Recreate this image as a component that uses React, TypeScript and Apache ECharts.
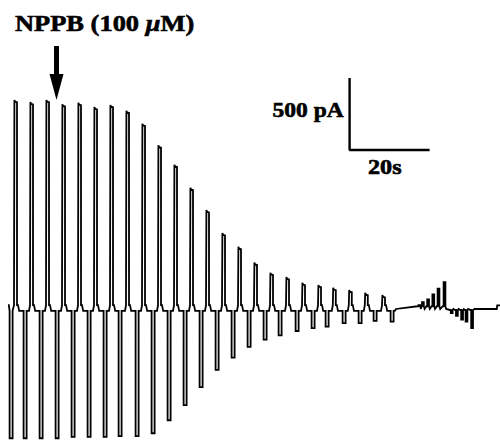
import React, { useEffect, useRef } from "react";
import * as echarts from "echarts";

// Time (s) at which each depolarising (positive) step begins, and its current (pA)
const posTimes = [3.6, 7.6, 11.6, 15.6, 19.6, 23.6, 27.6, 31.6, 35.6, 39.6, 43.6, 47.6, 51.6, 55.6, 59.6, 63.6, 67.6, 71.6, 75.6, 79.6, 83.3, 87.3, 91.3, 95.6];
const posPeaks = [1445, 1430, 1445, 1415, 1425, 1395, 1410, 1370, 1280, 1130, 995, 835, 680, 520, 425, 315, 245, 215, 175, 160, 140, 125, 105, 90];
// Time (s) at which each hyperpolarising (negative) step begins, and its current (pA)
const negTimes = [2.4, 5.9, 9.9, 13.9, 17.9, 21.9, 25.9, 29.65, 33.9, 37.9, 41.9, 45.9, 49.9, 53.9, 57.9, 61.9, 65.9, 69.65, 73.9, 77.9, 81.4, 85.65, 89.65, 93.4, 97.65];
const negPeaks = [-905, -905, -905, -905, -895, -895, -895, -890, -890, -870, -780, -675, -550, -430, -345, -270, -220, -190, -160, -140, -130, -105, -105, -90, -95];
// Late transient burst after the block (s, pA)
const burstTimes = [104.6, 105.5, 106.8, 108.1, 109.4, 110.9, 112.7, 114.0, 115.3, 116.4, 117.8];
const burstValues = [20, 40, 60, 95, 135, 180, -35, -55, -80, -95, -140];
// Scale bar: 20 s by 500 pA
const scaleBarTime = [87.4, 87.4, 107.4];
const scaleBarCurrent = [1597, 1097, 1097];

const SH = 20; // holding-current shoulder (pA)
const PW = 0.65; // positive step duration (s)
const NW = 0.75; // negative step duration (s)

function buildTrace(): number[][] {
  const events = [
    ...posTimes.map((t, i) => ({ t, v: posPeaks[i], pos: true })),
    ...negTimes.map((t, i) => ({ t, v: negPeaks[i], pos: false })),
  ].sort((a, b) => a.t - b.t);
  const pts: number[][] = [[2.0, SH], [2.2, SH]];
  for (const e of events) {
    if (e.pos) {
      pts.push(
        [e.t - 0.35, -SH], [e.t - 0.1, SH], [e.t, SH],
        [e.t, e.v], [e.t + 0.15, e.v - 12], [e.t + PW, e.v - 16],
        [e.t + PW, SH], [e.t + PW + 0.25, SH], [e.t + PW + 0.55, -SH]
      );
    } else {
      pts.push([e.t, -SH], [e.t, e.v], [e.t + NW, e.v], [e.t + NW, -SH]);
    }
  }
  const last = negTimes[negTimes.length - 1] + NW;
  pts.push([last + 0.3, -SH], [last + 0.6, -7]);
  let prev = last + 0.6;
  burstTimes.forEach((t, i) => {
    const v = burstValues[i];
    const base = v > 0 ? 12 : -14;
    pts.push([prev + 0.1, -7]);
    pts.push([t - 0.2, base], [t, base], [t, v], [t + 0.45, v], [t + 0.45, base]);
    prev = t + 0.55;
  });
  pts.push([prev + 0.3, -7], [124.2, -7], [124.3, 18], [125, 18]);
  return pts;
}

const serif = '"Liberation Serif", "Times New Roman", serif';
const textCommon = {
  fontFamily: serif,
  fontWeight: "bold",
  fontSize: 21,
  fill: "#000",
  stroke: "#000",
  lineWidth: 0.6,
  verticalAlign: "middle",
  align: "left",
};

export default function App() {
  const ref = useRef<HTMLDivElement>(null);
  useEffect(() => {
    if (!ref.current) return;
    const chart = echarts.init(ref.current, undefined, { renderer: "svg" });
    chart.setOption({
      animation: false,
      backgroundColor: "#fff",
      grid: { left: 0, right: 0, top: 0, bottom: 0 },
      xAxis: { type: "value", min: 0, max: 125, show: false },
      yAxis: { type: "value", min: -917, max: 2139, show: false },
      series: [
        {
          type: "line",
          data: buildTrace(),
          showSymbol: false,
          symbol: "none",
          lineStyle: { color: "#000", width: 1.8, join: "miter" },
          silent: true,
        },
        {
          type: "line",
          data: scaleBarTime.map((t, i) => [t, scaleBarCurrent[i]]),
          showSymbol: false,
          symbol: "none",
          lineStyle: { color: "#000", width: 2.4 },
          silent: true,
        },
      ],
      graphic: [
        {
          type: "text",
          x: 15,
          y: 23,
          scaleX: 1.15,
          style: {
            text: "{a|NPPB (100 }{b|μ}{a|M)}",
            rich: {
              a: { fontFamily: serif, fontWeight: "bold", fontSize: 23, fill: "#000", stroke: "#000", lineWidth: 0.6 },
              b: { fontFamily: serif, fontWeight: "bold", fontStyle: "italic", fontSize: 23, fill: "#000", stroke: "#000", lineWidth: 0.6 },
            },
            verticalAlign: "middle",
            align: "left",
          },
        },
        { type: "rect", shape: { x: 54, y: 46, width: 5, height: 30 }, style: { fill: "#000" } },
        {
          type: "polygon",
          shape: { points: [[49.5, 74], [63.5, 74], [56.5, 100]] },
          style: { fill: "#000" },
        },
        {
          type: "text",
          x: 272.5,
          y: 109.5,
          scaleX: 1.12,
          style: { ...textCommon, text: "500 pA" },
        },
        {
          type: "text",
          x: 368,
          y: 167,
          scaleX: 1.15,
          style: { ...textCommon, text: "20s" },
        },
      ],
    });
    return () => chart.dispose();
  }, []);
  return (
    <div
      ref={ref}
      style={{ position: "absolute", left: 0, top: 0, width: 500, height: 440 }}
    />
  );
}
